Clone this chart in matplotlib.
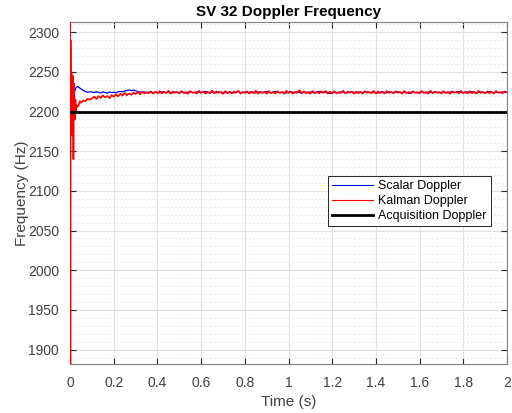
import numpy as np
import matplotlib
matplotlib.use("Agg")
import matplotlib.pyplot as plt
from matplotlib.ticker import MultipleLocator

plt.rcParams["font.family"] = ["Liberation Sans", "DejaVu Sans"]

# --- data ---
acq_doppler = 2200.0

scalar_t_early = [0.0, 0.005, 0.01, 0.015, 0.02, 0.025, 0.03, 0.035, 0.04,
                  0.05, 0.06, 0.07, 0.08, 0.09]
scalar_f_early = [2200, 2199, 2203, 2215, 2225, 2229, 2231, 2231.5, 2230.5,
                  2228.5, 2226.5, 2225.3, 2224.4, 2224.8]

kalman_t_early = [0.0, 0.001, 0.002, 0.004, 0.006, 0.009, 0.012, 0.015, 0.018,
                  0.021, 0.024, 0.027, 0.03, 0.035, 0.04, 0.045,
                  0.05, 0.06, 0.07, 0.08, 0.09]
kalman_f_early = [2313, 1882, 2290, 2180, 2250, 2170, 2245, 2140, 2235,
                  2190, 2215, 2200, 2208, 2206, 2209, 2213,
                  2211, 2214, 2213, 2216, 2215]

# steady part, sampled every 0.01 s from 0.10 to 2.00
steady_t = [round(0.10 + 0.01 * i, 2) for i in range(191)]

scalar_f_steady = [
    2224.5, 2223.8, 2225.1, 2224.2, 2223.5, 2224.8, 2224.0, 2223.2, 2224.6, 2223.9,
    2224.3, 2223.6, 2224.9, 2225.4, 2224.7, 2225.8, 2226.5, 2227.2, 2226.4, 2227.0,
    2226.1, 2225.2, 2224.6, 2224.0, 2224.8, 2223.7, 2224.5, 2224.1, 2223.4, 2224.7,
    2224.2, 2223.6, 2224.9, 2224.3, 2223.8, 2225.0, 2224.4, 2223.5, 2224.6, 2224.0,
    2223.7, 2224.8, 2224.1, 2223.3, 2224.5, 2225.2, 2224.0, 2223.6, 2224.7, 2224.2,
    2223.9, 2224.6, 2225.3, 2224.1, 2223.4, 2224.8, 2224.3, 2223.7, 2224.9, 2224.0,
    2222.9, 2224.2, 2223.6, 2224.7, 2224.1, 2223.5, 2224.4, 2225.1, 2224.0, 2223.8,
    2224.6, 2223.9, 2224.3, 2225.0, 2224.2, 2223.6, 2224.8, 2224.1, 2223.4, 2224.5,
    2224.9, 2224.0, 2223.7, 2224.6, 2225.3, 2224.2, 2223.8, 2224.7, 2224.1, 2223.5,
    2224.4, 2225.0, 2224.3, 2223.6, 2224.8, 2224.0, 2223.3, 2224.6, 2224.2, 2223.9,
    2224.7, 2224.1, 2223.5, 2224.9, 2225.4, 2224.3, 2223.8, 2224.5, 2224.0, 2222.8,
    2223.7, 2224.6, 2224.2, 2223.4, 2224.8, 2225.1, 2224.0, 2223.6, 2224.4, 2224.9,
    2224.1, 2223.5, 2224.7, 2224.3, 2223.8, 2225.2, 2224.5, 2223.9, 2224.2, 2224.8,
    2224.0, 2223.4, 2224.6, 2225.0, 2224.1, 2223.7, 2224.9, 2224.3, 2223.6, 2224.4,
    2225.1, 2224.2, 2223.5, 2224.7, 2224.0, 2222.9, 2224.3, 2224.8, 2224.1, 2223.6,
    2224.5, 2225.2, 2224.0, 2223.4, 2224.6, 2224.2, 2223.8, 2224.9, 2224.3, 2223.7,
    2224.4, 2225.0, 2224.1, 2223.5, 2224.8, 2224.3, 2223.9, 2224.6, 2225.1, 2224.0,
    2223.6, 2224.7, 2224.2, 2223.8, 2224.9, 2224.4, 2223.5, 2224.1, 2224.8, 2224.3,
    2223.7, 2224.5, 2225.0, 2224.2, 2223.6, 2224.8, 2224.1, 2223.9, 2224.6, 2224.0, 2224.3,
]

kalman_f_steady = [
    2216.5, 2218.9, 2215.8, 2219.3, 2217.2, 2220.4, 2217.8, 2219.6, 2216.9, 2220.8,
    2218.7, 2221.5, 2219.2, 2222.3, 2220.1, 2223.4, 2220.6, 2222.8, 2221.0, 2223.9,
    2222.1, 2224.6, 2221.8, 2225.0, 2222.7, 2224.3, 2223.1, 2225.4, 2222.6, 2224.9,
    2223.0, 2225.6, 2222.8, 2224.9, 2223.4, 2226.1, 2222.5, 2225.2, 2223.7, 2224.8,
    2222.9, 2225.7, 2223.3, 2224.6, 2222.4, 2225.9, 2223.8, 2224.5, 2222.7, 2226.0,
    2223.5, 2225.1, 2222.6, 2224.7, 2223.2, 2226.3, 2222.9, 2225.4, 2223.6, 2224.8,
    2222.3, 2225.8, 2223.1, 2224.9, 2222.8, 2225.3, 2223.7, 2226.2, 2222.6, 2224.6,
    2223.4, 2225.5, 2222.7, 2224.8, 2223.0, 2226.4, 2222.5, 2225.0, 2223.9, 2224.7,
    2222.6, 2225.9, 2223.2, 2224.5, 2222.9, 2225.7, 2223.5, 2224.8, 2222.4, 2226.1,
    2223.3, 2225.2, 2222.7, 2224.9, 2223.6, 2227.0, 2222.8, 2225.4, 2223.1, 2224.6,
    2222.5, 2225.8, 2223.4, 2224.7, 2222.9, 2225.5, 2223.7, 2226.0, 2222.6, 2224.9,
    2223.2, 2225.6, 2222.8, 2224.4, 2223.5, 2226.2, 2222.7, 2225.1, 2223.9, 2224.8,
    2222.6, 2225.3, 2223.0, 2224.9, 2222.4, 2225.8, 2223.6, 2224.7, 2223.1, 2226.1,
    2222.8, 2225.4, 2223.3, 2224.6, 2222.7, 2225.9, 2223.5, 2224.8, 2222.9, 2225.6,
    2223.7, 2224.9, 2222.5, 2226.0, 2223.2, 2224.7, 2222.8, 2225.5, 2223.6, 2224.4,
    2222.9, 2225.8, 2223.4, 2224.6, 2222.6, 2226.1, 2223.1, 2225.0, 2223.8, 2224.7,
    2222.7, 2225.6, 2223.3, 2224.9, 2222.5, 2225.4, 2223.9, 2224.8, 2223.0, 2225.9,
    2223.4, 2224.6, 2222.8, 2225.7, 2223.1, 2224.9, 2222.6, 2226.0, 2223.5, 2224.7,
    2222.9, 2225.5, 2223.2, 2224.8, 2222.7, 2225.9, 2223.6, 2224.6, 2223.0, 2225.3, 2224.1,
]

scalar_t = scalar_t_early + steady_t
scalar_f = scalar_f_early + scalar_f_steady
kalman_t = kalman_t_early + steady_t
kalman_f = kalman_f_early + kalman_f_steady

text_color = "#404040"

fig = plt.figure(figsize=(5.12, 4.13), dpi=100)
ax = fig.add_axes([0.137, 0.119, 0.853, 0.828])

ax.plot(scalar_t, scalar_f, color="#0000ff", linewidth=0.9, label="Scalar Doppler", zorder=3)
ax.plot(kalman_t, kalman_f, color="#ff0000", linewidth=1.2, label="Kalman Doppler", zorder=3.1)
ax.plot([0, 2], [acq_doppler, acq_doppler], color="black", linewidth=2,
        label="Acquisition Doppler", zorder=3.2)

ax.set_xlim(0, 2)
ax.set_ylim(min(kalman_f), max(kalman_f))
ax.xaxis.set_major_locator(MultipleLocator(0.2))
ax.yaxis.set_major_locator(MultipleLocator(50))
ax.yaxis.set_minor_locator(MultipleLocator(10))
ax.set_xticklabels([f"{v:g}" for v in ax.get_xticks()])

ax.grid(True, which="major", color="#e0e0e0", linewidth=0.8)
ax.grid(True, which="minor", axis="y", color="#e3e3e3", linestyle=(0, (1.5, 2.5)), linewidth=0.7)
ax.set_axisbelow(True)

ax.tick_params(which="both", direction="in", top=True, right=True,
               colors="#262626", labelcolor=text_color, labelsize=10, length=4)
ax.tick_params(axis="x", pad=9)
ax.tick_params(axis="y", pad=8)
ax.tick_params(which="minor", length=0)
for s in ax.spines.values():
    s.set_color("#808080")
    s.set_linewidth(0.8)

ax.set_xlabel("Time (s)", fontsize=11, color=text_color, labelpad=3)
ax.set_ylabel("Frequency (Hz)", fontsize=11, color=text_color, labelpad=-1)
ax.set_title("SV 32 Doppler Frequency", fontsize=11, fontweight="bold", pad=4)

leg = ax.legend(loc="upper right", bbox_to_anchor=(0.977, 0.567), fontsize=9,
                fancybox=False, framealpha=1, edgecolor="#262626",
                borderpad=0.3, labelspacing=0.25, handlelength=3.3, handletextpad=0.4)
leg.get_frame().set_linewidth(0.7)
for h in leg.get_lines()[:2]:
    h.set_linewidth(0.8)

fig.savefig("out.png", dpi=100)
